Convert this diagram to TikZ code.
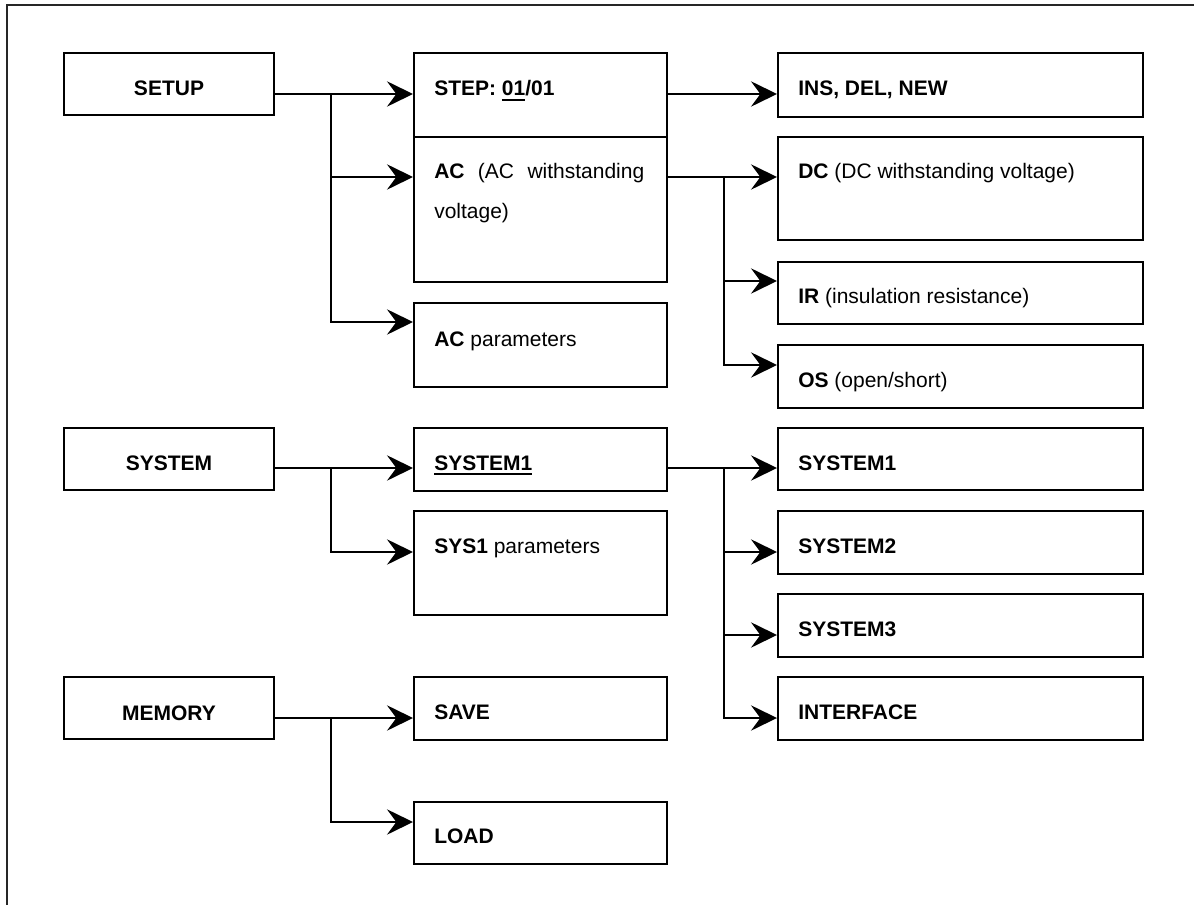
\documentclass[tikz,border=0pt]{standalone}
\usepackage{fontspec}
\setmainfont{Liberation Sans}
\usetikzlibrary{arrows.meta,calc,fit}

% thick underline used for the selected entries
\newsavebox\ulbox
\newcommand\thickul[1]{\sbox\ulbox{#1}\rlap{\rule[-3.75pt]{\wd\ulbox}{1.6pt}}\usebox\ulbox}

\begin{document}
\begin{tikzpicture}[x=0.75pt, y=-0.75pt,
  box/.style={draw, line width=1.5pt, inner sep=0pt},
  lbl/.style={font=\fontsize{15.75}{30}\selectfont, inner sep=0pt},
  conn/.style={line width=1.5pt, -{Stealth[length=19.5pt, width=19pt, inset=7pt]}},
  frame/.style={line width=1.2pt, draw=black!85}]

\useasboundingbox (0,0) rectangle (1194,905);
\draw[frame] (7,905) -- (7,5) -- (1194,5);

% left column: top-level menus
\node[box, fit={(64,53) (274,115)}]  (setup)  {};
\node[box, fit={(64,428) (274,490)}] (system) {};
\node[box, fit={(64,677) (274,739)}] (memory) {};

% middle column
\node[box, fit={(414,53) (667,137)}]  (step)    {};
\node[box, fit={(414,137) (667,282)}] (ac)      {};
\node[box, fit={(414,303) (667,387)}] (acpar)   {};
\node[box, fit={(414,428) (667,491)}] (sysm)    {};
\node[box, fit={(414,511) (667,615)}] (syspar)  {};
\node[box, fit={(414,677) (667,740)}] (save)    {};
\node[box, fit={(414,802) (667,864)}] (load)    {};

% right column
\node[box, fit={(778,53) (1143,117)}]  (ins)   {};
\node[box, fit={(778,137) (1143,240)}] (dc)    {};
\node[box, fit={(778,262) (1143,324)}] (ir)    {};
\node[box, fit={(778,345) (1143,408)}] (os)    {};
\node[box, fit={(778,428) (1143,490)}] (sys1)  {};
\node[box, fit={(778,511) (1143,574)}] (sys2)  {};
\node[box, fit={(778,594) (1143,657)}] (sys3)  {};
\node[box, fit={(778,677) (1143,740)}] (iface) {};

% labels
\node[lbl, anchor=base] (setup-t)  at ($(setup.north)+(0,44)$)  {\textbf{SETUP}};
\node[lbl, anchor=base] (system-t) at ($(system.north)+(0,43)$) {\textbf{SYSTEM}};
\node[lbl, anchor=base] (memory-t) at ($(memory.north)+(0,44)$) {\textbf{MEMORY}};

\node[lbl, anchor=base west] (step-t)   at ($(step.north west)+(21,44)$)   {\textbf{STEP: \thickul{01}/01}};
\node[lbl, anchor=base west] (ac-t)     at ($(ac.north west)+(21,43)$)     {\makebox[157.5pt][s]{\textbf{AC} (AC withstanding}};
\node[lbl, anchor=base west] (ac-t2)    at ($(ac.north west)+(21,83)$)     {voltage)};
\node[lbl, anchor=base west] (acpar-t)  at ($(acpar.north west)+(21,44)$)  {\textbf{AC} parameters};
\node[lbl, anchor=base west] (sysm-t)   at ($(sysm.north west)+(21,43)$)   {\textbf{\thickul{SYSTEM1}}};
\node[lbl, anchor=base west] (syspar-t) at ($(syspar.north west)+(21,43)$) {\textbf{SYS1} parameters};
\node[lbl, anchor=base west] (save-t)   at ($(save.north west)+(21,43)$)   {\textbf{SAVE}};
\node[lbl, anchor=base west] (load-t)   at ($(load.north west)+(21,42)$)   {\textbf{LOAD}};

\node[lbl, anchor=base west] (ins-t)   at ($(ins.north west)+(21,44)$)   {\textbf{INS, DEL, NEW}};
\node[lbl, anchor=base west] (dc-t)    at ($(dc.north west)+(21,43)$)    {\textbf{DC} (DC withstanding voltage)};
\node[lbl, anchor=base west] (ir-t)    at ($(ir.north west)+(21,43)$)    {\textbf{IR} (insulation resistance)};
\node[lbl, anchor=base west] (os-t)    at ($(os.north west)+(21,43)$)    {\textbf{OS} (open/short)};
\node[lbl, anchor=base west] (sys1-t)  at ($(sys1.north west)+(21,43)$)  {\textbf{SYSTEM1}};
\node[lbl, anchor=base west] (sys2-t)  at ($(sys2.north west)+(21,43)$)  {\textbf{SYSTEM2}};
\node[lbl, anchor=base west] (sys3-t)  at ($(sys3.north west)+(21,43)$)  {\textbf{SYSTEM3}};
\node[lbl, anchor=base west] (iface-t) at ($(iface.north west)+(21,43)$) {\textbf{INTERFACE}};

% SETUP branch
\draw[conn] ($(setup.north east)+(0,42)$) -- ($(step.north west)+(0,42)$);
\coordinate (jsetup) at ($(setup.north east)+(56,42)$);
\draw[conn] (jsetup) |- ($(ac.north west)+(0,41)$);
\draw[conn] (jsetup) |- ($(acpar.north west)+(0,20)$);

% STEP and AC sub-branches
\draw[conn] ($(step.north east)+(0,42)$) -- ($(ins.north west)+(0,42)$);
\draw[conn] ($(ac.north east)+(0,41)$) -- ($(dc.north west)+(0,41)$);
\coordinate (jac) at ($(ac.north east)+(56,41)$);
\draw[conn] (jac) |- ($(ir.north west)+(0,20)$);
\draw[conn] (jac) |- ($(os.north west)+(0,21)$);

% SYSTEM branch
\draw[conn] ($(system.north east)+(0,41)$) -- ($(sysm.north west)+(0,41)$);
\coordinate (jsys) at ($(system.north east)+(56,41)$);
\draw[conn] (jsys) |- ($(syspar.north west)+(0,42)$);

% SYSTEM1 sub-branch
\draw[conn] ($(sysm.north east)+(0,41)$) -- ($(sys1.north west)+(0,41)$);
\coordinate (jsysm) at ($(sysm.north east)+(56,41)$);
\draw[conn] (jsysm) |- ($(sys2.north west)+(0,42)$);
\draw[conn] (jsysm) |- ($(sys3.north west)+(0,42)$);
\draw[conn] (jsysm) |- ($(iface.north west)+(0,42)$);

% MEMORY branch
\draw[conn] ($(memory.north east)+(0,42)$) -- ($(save.north west)+(0,42)$);
\coordinate (jmem) at ($(memory.north east)+(56,42)$);
\draw[conn] (jmem) |- ($(load.north west)+(0,21)$);

\end{tikzpicture}
\end{document}
